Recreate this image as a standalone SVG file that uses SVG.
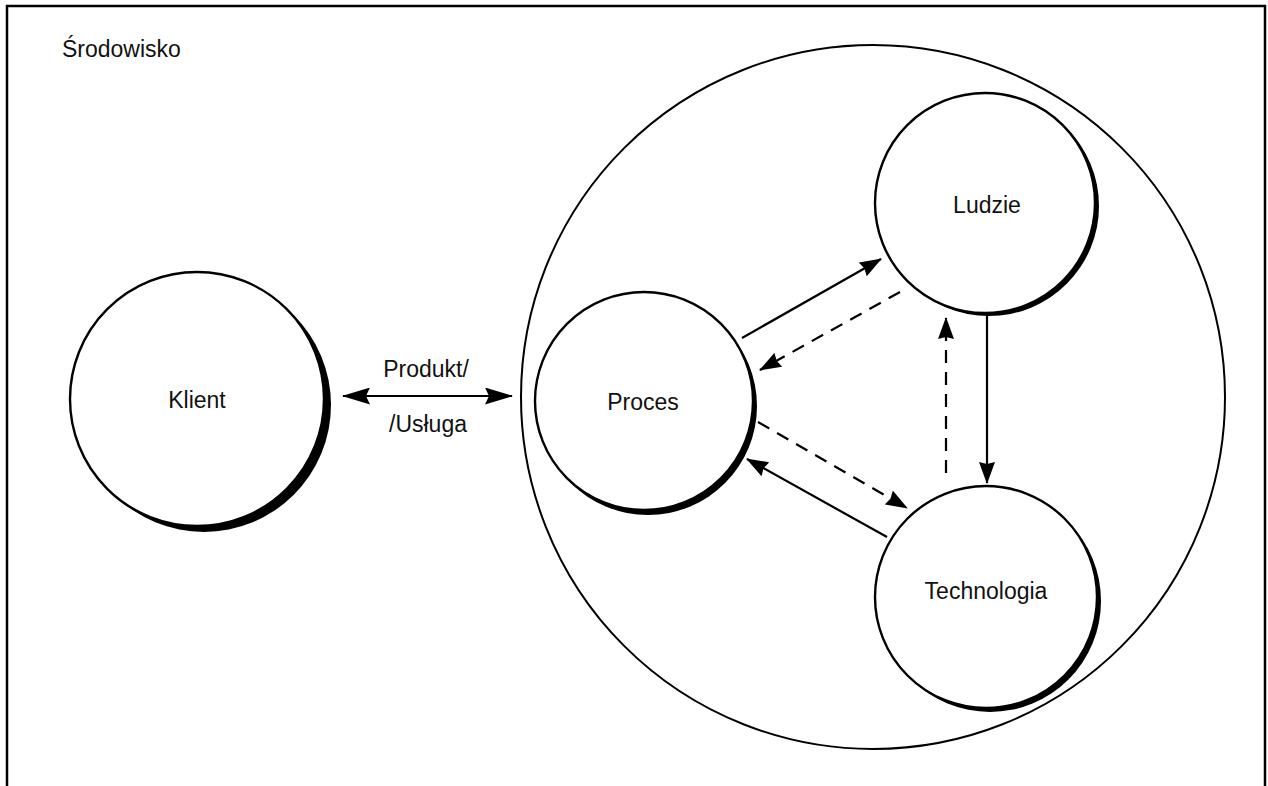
<svg xmlns="http://www.w3.org/2000/svg" width="1268" height="786" viewBox="0 0 1268 786">
  <style>
    .frame { fill: none; stroke: #000; stroke-width: 2.5; }
    .env { fill: none; stroke: #000; stroke-width: 2; }
    .node { fill: #fff; stroke: #000; stroke-width: 2.4; }
    .shadow { fill: #000; }
    .label { font-family: "Liberation Sans", Arial, sans-serif; font-size: 23px; fill: #111; text-anchor: middle; }
    .title { font-family: "Liberation Sans", Arial, sans-serif; font-size: 23px; fill: #111; }
    .flow { fill: none; stroke: #000; stroke-width: 2.2; }
    .dash { stroke-dasharray: 13 9; }
  </style>
  <defs>
    <marker id="head" viewBox="0 0 22 16" refX="21" refY="8" markerWidth="22" markerHeight="16" markerUnits="userSpaceOnUse" orient="auto-start-reverse">
      <path d="M0,0 L22,8 L0,16 L2,8 Z" fill="#000"/>
    </marker>
    <marker id="headBig" viewBox="0 0 28 17" refX="27" refY="8.5" markerWidth="28" markerHeight="17" markerUnits="userSpaceOnUse" orient="auto-start-reverse">
      <path d="M0,0 L28,8.5 L0,17 L4,8.5 Z" fill="#000"/>
    </marker>
  </defs>

  <rect width="1268" height="786" fill="#fff"/>

  <!-- environment frame -->
  <g id="frame">
    <path class="frame" d="M7,786 L7,6 L1265,6 L1265,786"/>
    <text class="title" x="62" y="57">Środowisko</text>
  </g>

  <!-- organisation boundary -->
  <g id="organizacja">
    <circle class="env" cx="873" cy="397" r="352"/>
  </g>

  <g id="klient">
    <circle class="shadow" cx="204" cy="405" r="127"/>
    <circle class="node" cx="197" cy="399" r="127"/>
    <text class="label" x="197" y="408">Klient</text>
  </g>

  <g id="proces">
    <circle class="shadow" cx="648" cy="406" r="109"/>
    <circle class="node" cx="644" cy="401" r="109"/>
    <text class="label" x="643" y="410">Proces</text>
  </g>

  <g id="ludzie">
    <circle class="shadow" cx="989" cy="206" r="110"/>
    <circle class="node" cx="985" cy="203" r="110"/>
    <text class="label" x="987" y="213">Ludzie</text>
  </g>

  <g id="technologia">
    <circle class="shadow" cx="990" cy="601" r="111"/>
    <circle class="node" cx="986" cy="597" r="111"/>
    <text class="label" x="986" y="599">Technologia</text>
  </g>

  <!-- connectors -->
  <g id="connectors">
    <line class="flow" x1="343" y1="396" x2="512" y2="396" marker-start="url(#headBig)" marker-end="url(#headBig)"/>
    <text class="label" x="426" y="377">Produkt/</text>
    <text class="label" x="428" y="432">/Usługa</text>

    <line class="flow" x1="742" y1="338" x2="881" y2="259" marker-end="url(#head)"/>
    <line class="flow dash" x1="900" y1="292" x2="760" y2="370" marker-end="url(#head)"/>
    <line class="flow dash" x1="758" y1="422" x2="907" y2="508" marker-end="url(#head)"/>
    <line class="flow" x1="887" y1="537" x2="747" y2="459" marker-end="url(#head)"/>
    <line class="flow dash" x1="946" y1="473" x2="946" y2="318" marker-end="url(#head)"/>
    <line class="flow" x1="987" y1="314" x2="987" y2="483" marker-end="url(#head)"/>
  </g>
</svg>
